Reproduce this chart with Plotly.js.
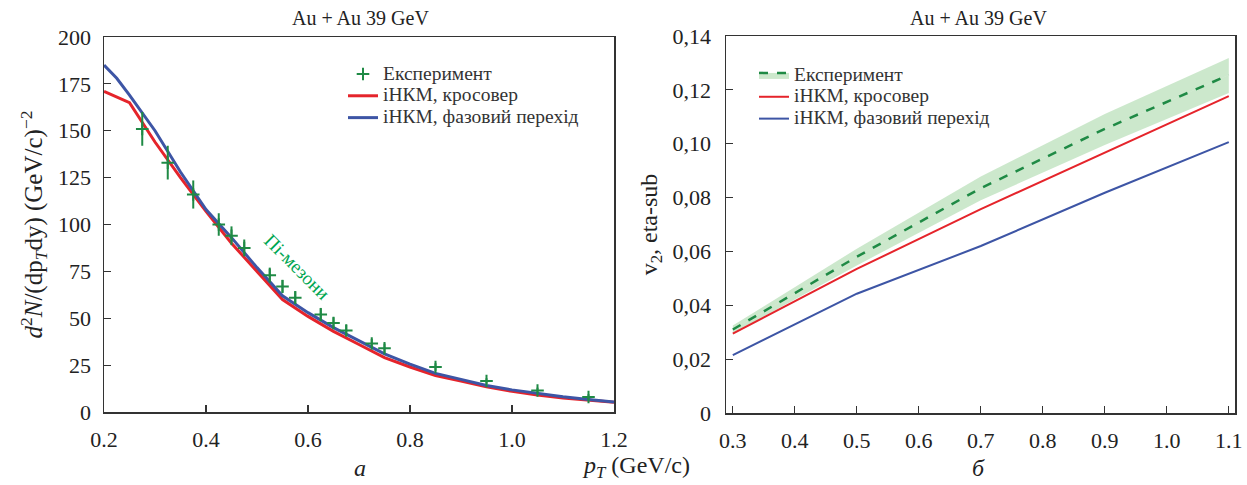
<!DOCTYPE html>
<html>
<head>
<meta charset="utf-8">
<script src="https://cdn.plot.ly/plotly-3.0.1.min.js"></script>
<style>html,body{margin:0;padding:0;background:#fff;}#chart{width:1247px;height:485px;}</style>
</head>
<body>
<div id="chart"></div>
<script>
// ---------- Panel a: spectra ----------
const modelPt = [0.2,0.225,0.25,0.3,0.35,0.4,0.45,0.5,0.55,0.6,0.65,0.7,0.75,0.8,0.85,0.9,0.95,1.0,1.05,1.1,1.15,1.2];
const spectrumCrossover = [171,168,165,144,125,107,90,75,60,51,43,36,29,24,19.5,16.5,13.5,11,9,7.5,6.2,5.2];
const spectrumPhase = [185,178,169,150,128,108,93,77,62,53,45,38,31,25.5,20.6,17.4,14.1,11.8,9.8,8.1,6.7,5.3];
const expPt = [0.275,0.325,0.375,0.425,0.45,0.475,0.525,0.55,0.575,0.625,0.65,0.675,0.725,0.75,0.85,0.95,1.05,1.15];
const expSpectrum = [151,133,116,100,94,87.5,73,67,61,52,47.5,43.5,36.5,34,24,16.5,11.5,8];
const expSpectrumErr = [9,9,7.5,6,5,4.5,4,3.5,3.5,3.5,3,3,2.5,2.5,2,1.5,1.5,1.5];

// ---------- Panel б: v2 ----------
const v2Pt = [0.3,0.5,0.7,0.9,1.1];
const v2Exp = [0.031,0.058,0.0835,0.1055,0.1255];
const v2ExpLow = [0.0295,0.0548,0.0790,0.0995,0.1188];
const v2ExpHigh = [0.0325,0.0610,0.0878,0.1110,0.1318];
const v2Crossover = [0.0295,0.0535,0.0757,0.0966,0.1177];
const v2Phase = [0.0215,0.0443,0.0620,0.0818,0.1006];

// ---------- Labels ----------
const legendNames = ["Експеримент","іНКМ, кросовер","іНКМ, фазовий перехід"];
const leftYTicks = [0,25,50,75,100,125,150,175,200];
const leftXTicks = [0.2,0.4,0.6,0.8,1.0,1.2];
const rightXTicks = [0.3,0.4,0.5,0.6,0.7,0.8,0.9,1.0,1.1];
const rightYTicks = [0,0.02,0.04,0.06,0.08,0.10,0.12,0.14];
const rightYTickText = ["0","0,02","0,04","0,06","0,08","0,10","0,12","0,14"];

const RED = "#e5242b", BLUE = "#3d55a5", GREEN = "#1f8a45", BAND = "rgba(110,190,110,0.35)";
const FONT = "'Liberation Serif', 'DejaVu Serif', serif";
const big = s => '<span style="font-size:19.5px">' + s + '</span>';

const traces = [
  {x: modelPt, y: spectrumCrossover, type: "scatter", mode: "lines", name: big(legendNames[1]),
   line: {color: RED, width: 3}, xaxis: "x", yaxis: "y", legend: "legend"},
  {x: modelPt, y: spectrumPhase, type: "scatter", mode: "lines", name: big(legendNames[2]),
   line: {color: BLUE, width: 3}, xaxis: "x", yaxis: "y", legend: "legend"},
  {x: expPt, y: expSpectrum, type: "scatter", mode: "markers", name: big(legendNames[0]),
   marker: {symbol: "cross-thin", size: 9, line: {color: GREEN, width: 2}, color: GREEN},
   error_y: {type: "data", array: expSpectrumErr, visible: true, color: GREEN, thickness: 2, width: 0},
   xaxis: "x", yaxis: "y", legend: "legend", legendrank: 1},
  {x: v2Pt, y: v2ExpLow, type: "scatter", mode: "lines", line: {width: 0, color: BAND}, hoverinfo: "skip",
   showlegend: false, xaxis: "x2", yaxis: "y2"},
  {x: v2Pt, y: v2Exp, type: "scatter", mode: "lines", name: big(legendNames[0]), fill: "tonexty", fillcolor: BAND,
   line: {color: GREEN, width: 2.5, dash: "dash"}, xaxis: "x2", yaxis: "y2", legend: "legend2"},
  {x: v2Pt, y: v2ExpHigh, type: "scatter", mode: "lines", fill: "tonexty", fillcolor: BAND,
   line: {width: 0, color: BAND}, hoverinfo: "skip", showlegend: false, xaxis: "x2", yaxis: "y2"},
  {x: v2Pt, y: v2Crossover, type: "scatter", mode: "lines", name: big(legendNames[1]),
   line: {color: RED, width: 2}, xaxis: "x2", yaxis: "y2", legend: "legend2"},
  {x: v2Pt, y: v2Phase, type: "scatter", mode: "lines", name: big(legendNames[2]),
   line: {color: BLUE, width: 2}, xaxis: "x2", yaxis: "y2", legend: "legend2"}
];

const axisCommon = {
  showline: true, linecolor: "#333", linewidth: 1.5, mirror: true,
  ticks: "inside", ticklen: 7, tickwidth: 1.2, tickcolor: "#333",
  showgrid: false, zeroline: false,
  tickfont: {family: FONT, size: 22, color: "#222"}
};

const W = 1247, H = 485;
const px = v => v / W, py = v => 1 - v / H;
const ann = (text, x, y, size, extra) => Object.assign({text, x: px(x), y: py(y), xref: "paper", yref: "paper",
  xanchor: "center", yanchor: "middle", showarrow: false, font: {family: FONT, size, color: "#222"}}, extra || {});

const layout = {
  width: W, height: H,
  margin: {l: 0, r: 0, t: 0, b: 0},
  paper_bgcolor: "#fff", plot_bgcolor: "#fff",
  font: {family: FONT, color: "#222"},
  showlegend: true,
  xaxis: Object.assign({}, axisCommon, {domain: [104 / W, 614 / W], range: [0.2, 1.2],
    tickvals: leftXTicks, tickformat: ".1f", anchor: "y", ticklabelstandoff: 7}),
  yaxis: Object.assign({}, axisCommon, {domain: [73 / H, 448 / H], range: [0, 200],
    tickvals: leftYTicks, anchor: "x", ticklabelstandoff: 7,
    title: {text: "<i>d</i><sup>2</sup><i>N</i>/(dp<sub><i>T</i></sub>dy) (GeV/c)<sup>−2</sup>",
      font: {family: FONT, size: 25, color: "#222"}, standoff: 8}}),
  xaxis2: Object.assign({}, axisCommon, {domain: [726 / W, 1235 / W], range: [0.289, 1.11],
    tickvals: rightXTicks, tickformat: ".1f", anchor: "y2", ticklabelstandoff: 7}),
  yaxis2: Object.assign({}, axisCommon, {domain: [72 / H, 449 / H], range: [0, 0.14],
    tickvals: rightYTicks, ticktext: rightYTickText, anchor: "x2", ticklabelstandoff: 9,
    title: {text: "v<sub>2</sub>, eta-sub", font: {family: FONT, size: 24, color: "#222"}, standoff: 8}}),
  legend: {x: px(343), y: py(58), xanchor: "left", yanchor: "top", bgcolor: "rgba(0,0,0,0)",
    font: {family: FONT, size: 14.5, color: "#333"}, tracegroupgap: 0, traceorder: "normal"},
  legend2: {x: px(754), y: py(59), xanchor: "left", yanchor: "top", bgcolor: "rgba(0,0,0,0)",
    font: {family: FONT, size: 14.5, color: "#333"}, tracegroupgap: 0, traceorder: "normal"},
  annotations: [
    ann("Au + Au 39 GeV", 360, 18, 20),
    ann("Au + Au 39 GeV", 978, 18, 20),
    ann("<i>а</i>", 360, 468, 24),
    ann("<i>б</i>", 978, 468, 24),
    ann("<i>p</i><sub><i>T</i></sub> (GeV/c)", 636, 467, 24),
    ann("Пі-мезони", 297, 266, 19, {textangle: 45, font: {family: FONT, size: 19, color: "#00a651"}})
  ]
};

Plotly.newPlot("chart", traces, layout, {staticPlot: true, displayModeBar: false});
</script>
</body>
</html>
